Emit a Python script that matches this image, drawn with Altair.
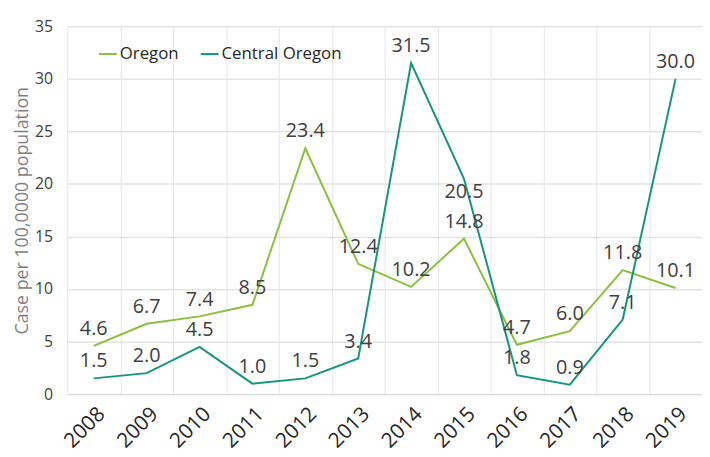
import altair as alt
import pandas as pd

years = ["2008", "2009", "2010", "2011", "2012", "2013", "2014", "2015", "2016", "2017", "2018", "2019"]
oregon = [4.6, 6.7, 7.4, 8.5, 23.4, 12.4, 10.2, 14.8, 4.7, 6.0, 11.8, 10.1]
central_oregon = [1.5, 2.0, 4.5, 1.0, 1.5, 3.4, 31.5, 20.5, 1.8, 0.9, 7.1, 30.0]
series_names = ["Oregon", "Central Oregon"]
series_colors = ["#8CBF40", "#14967A"]
y_ticks = [0, 5, 10, 15, 20, 25, 30, 35]

rows = []
for name, vals in zip(series_names, [oregon, central_oregon]):
    for yr, v in zip(years, vals):
        rows.append({"year": yr, "series": name, "value": v})
df = pd.DataFrame(rows)

FONT = "Open Sans"

x_enc = alt.X(
    "year:O",
    sort=years,
    scale=alt.Scale(type="band", paddingInner=0, paddingOuter=0),
    axis=alt.Axis(
        title=None,
        tickBand="extent",
        grid=True,
        gridColor="#e6e6e6",
        ticks=False,
        domain=True,
        domainColor="#d9d9d9",
        labelAngle=-45,
        labelFontSize=21,
        labelColor="#262626",
        labelFont=FONT,
        labelPadding=9,
    ),
)
y_enc = alt.Y(
    "value:Q",
    scale=alt.Scale(domain=[0, 35], nice=False, zero=True),
    axis=alt.Axis(
        values=y_ticks,
        title="Case per 100,0000 population",
        titleFont=FONT,
        titleFontSize=18,
        titleFontWeight="normal",
        titleColor="#7f7f7f",
        titlePadding=3,
        labelFontSize=16,
        labelColor="#404040",
        labelFont=FONT,
        labelPadding=15,
        grid=True,
        gridColor="#e3e3e3",
        gridWidth=1.5,
        domain=False,
        ticks=False,
    ),
)
color_enc = alt.Color(
    "series:N",
    scale=alt.Scale(domain=series_names, range=series_colors),
    legend=alt.Legend(
        title=None,
        orient="none",
        legendX=31,
        legendY=18,
        direction="horizontal",
        symbolType="stroke",
        symbolSize=324,
        symbolStrokeWidth=2,
        labelFontSize=17,
        labelFont=FONT,
        labelColor="#262626",
        labelOffset=2,
        columnPadding=18,
    ),
)

base = alt.Chart(df)

lines = base.mark_line(strokeWidth=2).encode(x=x_enc, y=y_enc, color=color_enc)

below = (alt.datum.series == "Central Oregon") & (alt.datum.year == "2015")

labels_above = base.transform_filter(~below).mark_text(
    dy=-17, fontSize=20, font=FONT, color="#404040"
).encode(x=x_enc, y=y_enc, text=alt.Text("value:Q", format=".1f"))

labels_below = base.transform_filter(below).mark_text(
    dy=13, fontSize=20, font=FONT, color="#404040"
).encode(x=x_enc, y=y_enc, text=alt.Text("value:Q", format=".1f"))

chart = (
    alt.layer(lines, labels_above, labels_below)
    .properties(
        width=642,
        height=372,
        autosize=alt.AutoSizeParams(type="none"),
        padding={"left": 60, "top": 16, "right": 0, "bottom": 60},
    )
    .configure_view(stroke=None)
)

chart.save("out.html", embed_options={"renderer": "svg", "actions": False})
